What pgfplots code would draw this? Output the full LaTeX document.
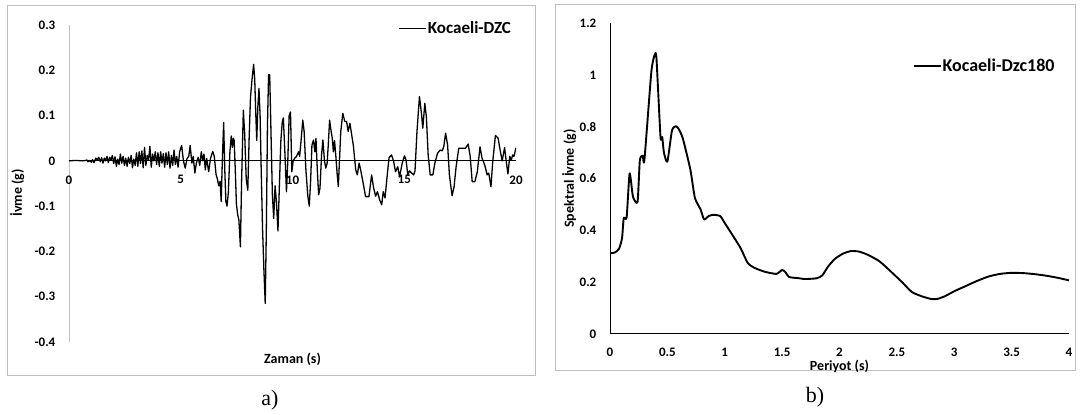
\documentclass[border=0pt]{standalone}
\usepackage{fontspec}
\setmainfont{Carlito}
\newfontfamily\capfont{Liberation Serif}
\usepackage{pgfplots}
\pgfplotsset{compat=1.18}
\definecolor{framegray}{HTML}{BFBFBF}

\newcommand\tickfont{\fontsize{13}{15}\selectfont\bfseries}
\newcommand\labfont{\fontsize{14}{16}\selectfont\bfseries}

\pgfplotsset{
  panel/.style={
    scale only axis, enlargelimits=false,
    tick style={draw=none},
    legend style={draw=none, fill=none, anchor=west, inner sep=0pt,
      nodes={inner sep=1pt}},
    legend image code/.code={\draw[##1] (0pt,0pt) -- (27pt,0pt);},
    hide obscured x ticks=false, hide obscured y ticks=false,
  }
}

% acceleration record
\pgfplotstableread{
t a
0 0
0.3 0.001
0.6 0
0.75 0.001
0.8 0.002
0.85 -0.002
0.9 0.001
1.0 -0.003
1.05 0.003
1.12 -0.004
1.2 0.006
1.27 0.002
1.33 0.008
1.4 -0.002
1.46 0.007
1.52 -0.005
1.58 0.006
1.64 0.0
1.7 0.01
1.76 -0.004
1.82 0.008
1.88 0.002
1.94 0.012
2.0 -0.006
2.06 0.009
2.12 -0.012
2.18 0.004
2.24 -0.008
2.3 0.015
2.36 -0.005
2.42 0.01
2.48 -0.01
2.54 0.006
2.6 -0.012
2.66 0.008
2.72 -0.006
2.78 0.012
2.84 -0.015
2.9 0.004
2.96 -0.01
3.02 0.018
3.08 -0.012
3.14 0.02
3.2 -0.006
3.26 0.022
3.32 -0.015
3.38 0.03
3.44 -0.01
3.5 0.012
3.56 0.002
3.62 0.032
3.68 -0.014
3.74 0.015
3.8 0.0
3.86 0.02
3.92 -0.008
3.98 0.018
4.04 -0.012
4.1 0.02
4.16 -0.005
4.22 0.016
4.28 -0.014
4.34 0.018
4.4 -0.008
4.46 0.02
4.52 -0.016
4.58 0.012
4.64 -0.01
4.7 0.024
4.76 -0.008
4.82 0.01
4.88 -0.014
4.95 0.02
5.04 0.034
5.12 0.0
5.2 -0.016
5.28 0.005
5.36 0.01
5.42 0.034
5.5 -0.005
5.56 0.01
5.63 -0.027
5.7 -0.005
5.78 0.008
5.85 -0.01
5.92 0.02
5.98 0.0
6.04 0.015
6.1 -0.02
6.16 0.005
6.25 -0.024
6.33 0.005
6.43 0.021
6.5 0.01
6.58 -0.03
6.64 -0.04
6.7 -0.055
6.76 -0.045
6.81 -0.09
6.86 0.0
6.92 0.085
6.97 -0.02
7.02 -0.09
7.07 -0.1
7.13 -0.07
7.2 0.02
7.26 0.055
7.31 0.03
7.35 0.05
7.39 0.045
7.44 -0.02
7.49 -0.095
7.55 -0.12
7.6 -0.13
7.67 -0.19
7.72 -0.05
7.8 0.112
7.86 0.06
7.93 -0.04
8.0 -0.065
8.06 0.05
8.12 0.14
8.19 0.18
8.26 0.213
8.31 0.18
8.36 0.1
8.4 0.045
8.45 0.12
8.5 0.16
8.55 0.1
8.6 -0.02
8.66 -0.15
8.72 -0.24
8.78 -0.315
8.83 -0.15
8.88 0.08
8.93 0.19
8.98 0.19
9.03 0.08
9.1 -0.075
9.16 -0.127
9.22 -0.055
9.28 -0.09
9.35 -0.155
9.41 -0.06
9.48 0.045
9.54 0.085
9.59 0.095
9.65 0.03
9.73 -0.068
9.79 0.0
9.85 0.1
9.91 0.108
9.97 -0.024
10.03 0.0
10.1 0.006
10.18 0.01
10.27 0.02
10.32 0.01
10.38 0.043
10.46 0.09
10.52 0.065
10.6 -0.02
10.68 -0.075
10.75 -0.1
10.81 -0.045
10.87 0.035
10.94 0.046
11.0 0.02
11.05 0.05
11.11 -0.02
11.17 -0.075
11.23 -0.06
11.3 0.013
11.36 0.046
11.43 0.0
11.49 -0.016
11.55 -0.005
11.6 0.035
11.66 0.09
11.72 0.068
11.78 0.05
11.83 0.02
11.88 0.045
11.94 0.01
12.0 -0.03
12.05 -0.057
12.16 0.065
12.25 0.105
12.34 0.087
12.42 0.087
12.49 0.065
12.57 0.083
12.64 0.06
12.72 0.035
12.83 -0.02
12.9 -0.031
12.98 -0.005
13.05 -0.02
13.15 -0.046
13.27 -0.079
13.42 -0.079
13.54 -0.031
13.63 -0.06
13.72 -0.078
13.8 -0.068
13.9 -0.086
13.99 -0.097
14.06 -0.068
14.14 -0.082
14.24 -0.031
14.32 0.007
14.43 0.013
14.52 0.0
14.61 -0.024
14.71 -0.013
14.79 -0.035
14.91 -0.005
15.01 0.011
15.08 0.002
15.16 -0.031
15.24 -0.022
15.33 -0.027
15.42 -0.031
15.48 -0.023
15.57 0.065
15.68 0.142
15.77 0.105
15.83 0.072
15.92 0.127
15.99 0.097
16.07 0.013
16.16 -0.031
16.28 -0.031
16.37 -0.005
16.49 0.017
16.61 0.024
16.7 0.022
16.77 0.032
16.85 0.061
16.94 0.035
17.02 -0.031
17.14 -0.077
17.23 -0.057
17.32 -0.013
17.44 0.028
17.59 0.028
17.74 0.028
17.86 0.037
17.95 0.01
18.04 -0.046
18.16 -0.046
18.27 -0.024
18.39 0.031
18.48 0.006
18.6 -0.009
18.71 -0.031
18.78 -0.027
18.88 -0.057
18.96 -0.001
19.08 0.056
19.2 0.05
19.3 0.021
19.38 0.0
19.49 0.029
19.56 0.0
19.64 -0.029
19.72 0.01
19.79 0.002
19.85 0.013
19.91 0.01
20.0 0.029
}\accel

% response spectrum
\pgfplotstableread{
T Sa
0 0.311
0.045 0.315
0.08 0.33
0.105 0.37
0.12 0.448
0.145 0.45
0.171 0.62
0.2 0.53
0.24 0.51
0.26 0.67
0.285 0.688
0.3 0.672
0.36 1.01
0.39 1.079
0.405 1.063
0.44 0.761
0.455 0.76
0.47 0.7
0.5 0.665
0.54 0.785
0.575 0.802
0.6 0.79
0.635 0.754
0.7 0.635
0.74 0.525
0.79 0.48
0.82 0.442
0.86 0.455
0.9 0.46
0.96 0.455
1.0 0.428
1.07 0.38
1.14 0.33
1.2 0.274
1.26 0.255
1.35 0.24
1.45 0.232
1.5 0.247
1.53 0.238
1.56 0.22
1.65 0.215
1.7 0.212
1.8 0.215
1.85 0.226
1.9 0.26
1.96 0.29
2.03 0.31
2.1 0.32
2.17 0.318
2.25 0.305
2.35 0.28
2.45 0.24
2.55 0.198
2.63 0.162
2.72 0.145
2.8 0.135
2.85 0.135
2.92 0.146
3.0 0.165
3.1 0.185
3.2 0.205
3.3 0.222
3.4 0.232
3.5 0.236
3.6 0.235
3.7 0.231
3.8 0.225
3.9 0.217
4.0 0.207
}\spectrum

\begin{document}
\begin{tikzpicture}[x=1pt,y=1pt]
\useasboundingbox (0,0) rectangle (1080,415);
\draw[framegray, line width=0.8pt] (7,40) rectangle (535,410);
\draw[framegray, line width=0.8pt] (555,45) rectangle (1075,411);
\node[font=\capfont\fontsize{22}{24}\selectfont] at (270,15) {a)};
\node[font=\capfont\fontsize{22}{24}\selectfont] at (815,18) {b)};

\begin{axis}[panel, at={(69pt,73pt)}, anchor=south west,
  width=447pt, height=317pt,
  xmin=0, xmax=20, ymin=-0.4, ymax=0.3,
  axis x line=middle, axis y line=left,
  x axis line style={black, line width=1.2pt, -},
  y axis line style={framegray, line width=0.9pt, -},
  xtick={0,5,10,15,20}, xticklabels={0,5,10,15,20},
  ytick={-0.4,-0.3,-0.2,-0.1,0,0.1,0.2,0.3},
  yticklabels={-0.4,-0.3,-0.2,-0.1,0,0.1,0.2,0.3},
  xticklabel style={font=\tickfont, yshift=-9pt},
  yticklabel style={font=\tickfont, xshift=-8pt},
  xlabel={Zaman (s)}, ylabel={İvme (g)},
  every axis x label/.style={at={(axis description cs:0.5,-0.054)}, anchor=center, font=\labfont},
  every axis y label/.style={at={(axis description cs:-0.116,0.47)}, anchor=center, rotate=90, font=\labfont},
  legend style={at={(0.737,0.99)}, font=\fontsize{17}{19}\selectfont\bfseries},
]
\addplot[black, line width=1.3pt, line join=round] table[x=t, y=a] {\accel};
\addlegendentry{Kocaeli-DZC}
\end{axis}

\begin{axis}[panel, at={(610pt,81pt)}, anchor=south west,
  width=459pt, height=311pt,
  xmin=0, xmax=4, ymin=0, ymax=1.2,
  axis lines=left,
  axis line style={black, line width=1pt, -},
  xtick={0,0.5,1,1.5,2,2.5,3,3.5,4},
  xticklabels={0,0.5,1,1.5,2,2.5,3,3.5,4},
  ytick={0,0.2,0.4,0.6,0.8,1,1.2},
  yticklabels={0,0.2,0.4,0.6,0.8,1,1.2},
  xticklabel style={font=\tickfont, yshift=-8pt},
  yticklabel style={font=\tickfont, xshift=-8pt},
  xlabel={Periyot (s)}, ylabel={Spektral İvme (g)},
  every axis x label/.style={at={(axis description cs:0.5,-0.103)}, anchor=center, font=\labfont},
  every axis y label/.style={at={(axis description cs:-0.089,0.5)}, anchor=center, rotate=90, font=\labfont},
  legend style={at={(0.659,0.862)}, font=\fontsize{18}{20}\selectfont\bfseries},
]
\addplot[black, line width=1.9pt, line join=round, smooth, tension=0.35] table[x=T, y=Sa] {\spectrum};
\addlegendentry{Kocaeli-Dzc180}
\end{axis}
\end{tikzpicture}
\end{document}
